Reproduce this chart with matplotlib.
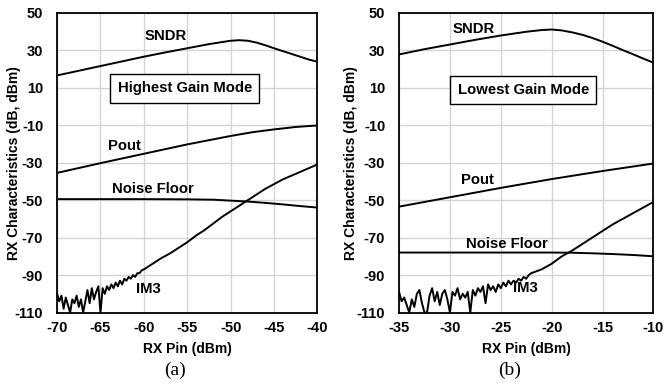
import numpy as np
import matplotlib
matplotlib.use("Agg")
import matplotlib.pyplot as plt

plt.rcParams['font.family'] = ['Liberation Sans', 'DejaVu Sans']
plt.rcParams['font.weight'] = 'bold'
plt.rcParams['axes.unicode_minus'] = False

# -------------------------
# (a) HIGHEST GAIN MODE
# -------------------------
a_sndr_x = [-70, -67.5, -65, -62.5, -60, -57.5, -55, -52.5, -51, -50, -49, -48,
            -47, -46, -45, -44, -43, -42, -41, -40]
a_sndr_y = [16.5, 19, 21.5, 24, 26.5, 28.8, 31, 33.2, 34.3, 35, 35.3, 35,
            34, 32.6, 31, 29.5, 28, 26.5, 25, 23.8]

a_pout_x = [-70, -65, -60, -55, -50, -47.5, -45, -42.5, -40]
a_pout_y = [-35.5, -30.3, -25.3, -20.3, -15.8, -13.8, -12.3, -11, -10.2]

a_nf_x = [-70, -60, -55, -52, -50, -48, -46, -44, -42, -40]
a_nf_y = [-49.5, -49.5, -49.6, -49.8, -50.3, -50.8, -51.5, -52.3, -53.2, -54]

# IM3: measured in 0.25 dB steps up to -60 dBm, then 1 dB steps
a_im3_noisy = [-100, -104, -101, -108,    # -70
               -102, -106, -110, -103,    # -69
               -105, -101, -107, -103,    # -68
               -110, -104, -98, -105,     # -67
               -97, -103, -99, -96,       # -66
               -110, -97, -100, -96,      # -65
               -98, -95, -97, -94,        # -64
               -96, -93, -95, -92,        # -63
               -93, -91, -92, -90,        # -62
               -91, -89, -89, -87.5,      # -61
               -87]                       # -60
a_im3_smooth = [-84, -81, -78.5, -75.5, -72.5, -69, -66, -62.5, -59, -56,
                -53, -50, -47, -44, -41.5, -39, -37, -35, -33, -31]
a_im3_x = np.concatenate([np.arange(-70, -59.9, 0.25), np.arange(-59, -39.9, 1)])
a_im3_y = a_im3_noisy + a_im3_smooth

# -------------------------
# (b) LOWEST GAIN MODE
# -------------------------
b_sndr_x = [-35, -32.5, -30, -27.5, -25, -22.5, -21, -20, -19, -18, -17, -16,
            -15, -14, -13, -12, -11, -10]
b_sndr_y = [27.7, 30.5, 33, 35.5, 37.8, 39.8, 40.7, 41, 40.5, 39.5, 38.2, 36.5,
            34.5, 32.3, 30, 27.8, 25.5, 23.3]

b_pout_x = [-35, -30, -25, -20, -15, -12.5, -10]
b_pout_y = [-53.5, -48.5, -43.5, -38.8, -34.5, -32.5, -30.5]

b_nf_x = [-35, -20, -18, -16, -14, -12, -10]
b_nf_y = [-78, -78, -78.1, -78.4, -78.8, -79.3, -80]

b_im3_noisy = [-99, -104, -102, -106,     # -35
               -110, -103, -107, -100,    # -34
               -98, -105, -110, -110,     # -33
               -101, -97, -104, -99,      # -32
               -106, -100, -98, -103,     # -31
               -110, -99, -101, -97,      # -30
               -103, -100, -102, -99,     # -29
               -110, -98, -101, -97,      # -28
               -99, -96, -105, -95,       # -27
               -98, -96, -99, -95,        # -26
               -97, -94, -96, -93,        # -25
               -95, -93, -94, -92,        # -24
               -93, -91, -92, -90,        # -23
               -89]                       # -22
b_im3_smooth = [-87, -84, -80, -77, -73.5, -70, -66.5, -63, -60, -57, -54, -51]
b_im3_x = np.concatenate([np.arange(-35, -21.9, 0.25), np.arange(-21, -9.9, 1)])
b_im3_y = b_im3_noisy + b_im3_smooth

y_ticks = [-110, -90, -70, -50, -30, -10, 10, 30, 50]

fig = plt.figure(figsize=(6.64, 3.83), dpi=100)
ax1 = fig.add_axes([0.086, 0.184, 0.392, 0.783])
ax2 = fig.add_axes([0.601, 0.184, 0.383, 0.783])


def style_axes(ax, xlim, xticks, ylab_x):
    ax.set_xlim(*xlim)
    ax.set_ylim(-110, 50)
    ax.set_xticks(xticks)
    ax.set_yticks(y_ticks)
    ax.grid(True, color='#d4d4d4', lw=1.0)
    ax.set_axisbelow(True)
    ax.tick_params(axis='x', length=0, labelsize=10.5, pad=6)
    ax.tick_params(axis='y', length=0, labelsize=10.5, pad=10)
    for lab in ax.get_xticklabels() + ax.get_yticklabels():
        lab.set_fontweight('bold')
    for s in ax.spines.values():
        s.set_linewidth(1.3)
        s.set_color('black')
    ax.set_xlabel("RX Pin (dBm)", fontsize=10, fontweight='bold', labelpad=5)
    ax.set_ylabel("RX Characteristics (dB, dBm)", fontsize=10,
                  fontweight='bold', va='center')
    ax.yaxis.set_label_coords(ylab_x, 0.5)


def draw_panel(ax, sndr, pout, nf, im3):
    for xs, ys in (sndr, pout, nf, im3):
        ax.plot(xs, ys, color='black', lw=1.4)


draw_panel(ax1, (a_sndr_x, a_sndr_y), (a_pout_x, a_pout_y),
           (a_nf_x, a_nf_y), (a_im3_x, a_im3_y))
draw_panel(ax2, (b_sndr_x, b_sndr_y), (b_pout_x, b_pout_y),
           (b_nf_x, b_nf_y), (b_im3_x, b_im3_y))

style_axes(ax1, (-70, -40), [-70, -65, -60, -55, -50, -45, -40], -0.165)
style_axes(ax2, (-35, -10), [-35, -30, -25, -20, -15, -10], -0.189)

lbl = dict(fontsize=10.7, fontweight='bold', ha='center', va='center')
ax1.text(-57.5, 37.5, "SNDR", **lbl)
ax1.text(-62.2, -21, "Pout", **lbl)
ax1.text(-59, -44, "Noise Floor", **lbl)
ax1.text(-59.5, -97.5, "IM3", **lbl)
ax1.text(-55.3, 9.6, "Highest Gain Mode", fontsize=10.7, fontweight='bold',
         ha='center', va='center',
         bbox=dict(boxstyle='square,pad=0.5', fc='white', ec='black', lw=1))

ax2.text(-27.7, 41.5, "SNDR", **lbl)
ax2.text(-27.3, -39.5, "Pout", **lbl)
ax2.text(-24.4, -73.5, "Noise Floor", **lbl)
ax2.text(-22.6, -96.7, "IM3", **lbl)
ax2.text(-22.8, 8.7, "Lowest Gain Mode", fontsize=10.7, fontweight='bold',
         ha='center', va='center',
         bbox=dict(boxstyle='square,pad=0.5', fc='white', ec='black', lw=1))

cap = dict(fontsize=14, fontfamily='Liberation Serif', fontweight='normal',
           ha='center', va='center')
fig.text(0.264, 0.034, "(a)", **cap)
fig.text(0.768, 0.034, "(b)", **cap)

fig.savefig("out.png", dpi=100)
